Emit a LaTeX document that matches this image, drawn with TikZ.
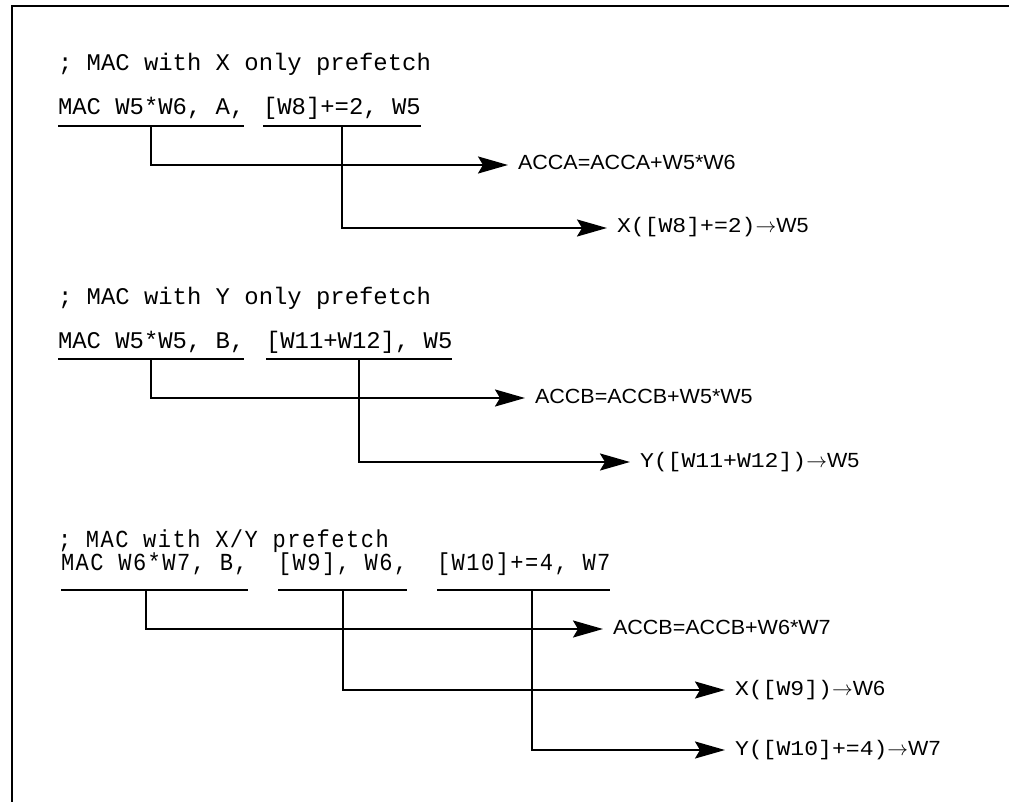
\documentclass[tikz,border=0pt]{standalone}
\usepackage{fontspec}
\newfontfamily\codefam{Liberation Mono}
\newfontfamily\narrowfam[FakeStretch=0.9,LetterSpace=6]{Liberation Mono}
\newfontfamily\labsansfam[FakeStretch=1.05]{Liberation Sans}
\newfontfamily\labmonofam[FakeStretch=1.1]{Liberation Mono}
\newcommand\codefont{\codefam\fontsize{23.9}{28}\selectfont}
\newcommand\narrowfont{\narrowfam\fontsize{24.5}{28}\selectfont}
\newcommand\lsans{\labsansfam\fontsize{20.5}{24}\selectfont}
\newcommand\lmono{\labmonofam\fontsize{21}{24}\selectfont}
\usetikzlibrary{arrows.meta}
\tikzset{
  code/.style={font=\codefont, anchor=base west, inner xsep=0pt, inner ysep=11pt, text depth=0pt, outer sep=0pt},
  narrow/.style={code, font=\narrowfont, inner ysep=20pt},
  result/.style={anchor=west, inner xsep=10pt, inner ysep=0pt, outer sep=0pt, text height=15pt, text depth=5pt, font=\lsans},
  uline/.style={line width=2pt},
  flow/.style={line width=2pt, -{Stealth[length=30pt,width=17pt,inset=5pt]}},
}
\begin{document}
\begin{tikzpicture}[x=1pt,y=-1pt]
  \useasboundingbox (0,0) rectangle (1009,802);
  % frame
  \draw[line width=2pt] (12,802) -- (12,6) -- (1009,6);
  % X only
  \node[code] (c1) at (58,71) {; MAC with X only prefetch};
  \node[code] (m1a) at (58,115) {MAC W5*W6, A,};
  \node[code] (m1b) at (263,115) {[W8]+=2, W5};
  \node[result] (r1) at (508,165) {ACCA=ACCA+W5*W6};
  \node[result] (r2) at (607,228) {\lmono X([W8]+=2)\lsans$\rightarrow$W5};
  \draw[flow] (m1a.south) |- (r1.west);
  \draw[flow] (m1b.south) |- (r2.west);
  % Y only
  \node[code] (c2) at (58,305) {; MAC with Y only prefetch};
  \node[code] (m2a) at (58,348) {MAC W5*W5, B,};
  \node[code] (m2b) at (266,348) {[W11+W12], W5};
  \node[result] (r3) at (525,398) {ACCB=ACCB+W5*W5};
  \node[result] (r4) at (630,462) {\lmono Y([W11+W12])\lsans$\rightarrow$W5};
  \draw[flow] (m2a.south) |- (r3.west);
  \draw[flow] (m2b.south) |- (r4.west);
  % X/Y
  \node[narrow] (c3) at (58,547) {; MAC with X/Y prefetch};
  \node[narrow] (m3a) at (61,570) {MAC W6*W7, B,};
  \node[narrow] (m3b) at (278,570) {[W9], W6,};
  \node[narrow] (m3c) at (437,570) {[W10]+=4, W7};
  \node[result] (r5) at (603,629) {ACCB=ACCB+W6*W7};
  \node[result] (r6) at (725,690) {\lmono X([W9])\lsans$\rightarrow$W6};
  \node[result] (r7) at (725,750) {\lmono Y([W10]+=4)\lsans$\rightarrow$W7};
  \draw[flow] ([xshift=-8pt]m3a.south) |- (r5.west);
  \draw[flow] (m3b.south) |- (r6.west);
  \draw[flow] ([xshift=8pt]m3c.south) |- (r7.west);
  % underlines
  \foreach \n in {m1a,m1b,m2a,m2b,m3a,m3b,m3c}
    \draw[uline] (\n.south west) -- (\n.south east);
\end{tikzpicture}
\end{document}
